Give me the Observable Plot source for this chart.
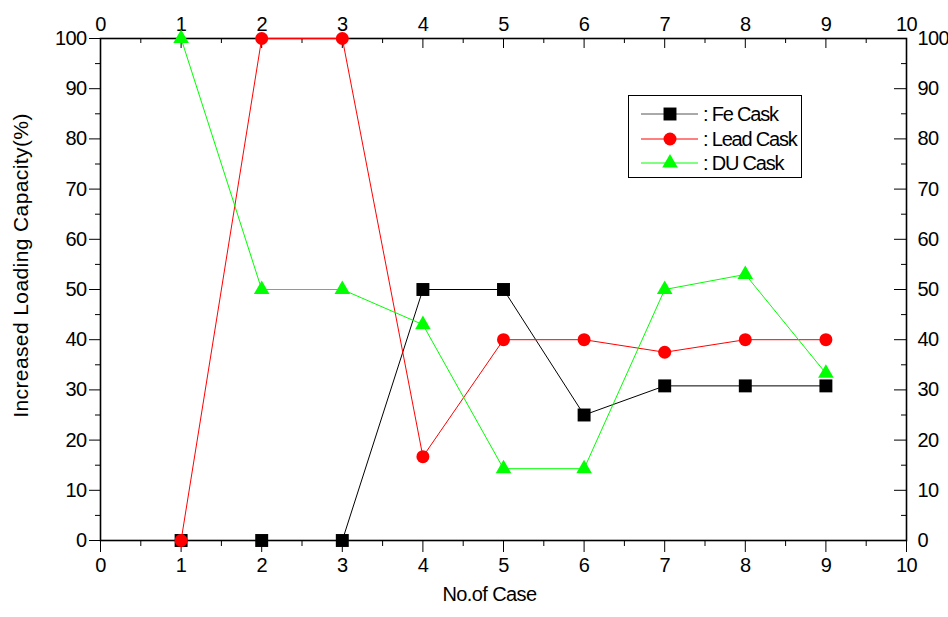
<!DOCTYPE html>
<html>
<head>
<meta charset="utf-8">
<script src="https://cdn.jsdelivr.net/npm/d3@7"></script>
<script src="https://cdn.jsdelivr.net/npm/@observablehq/plot@0.6"></script>
<style>
  body { margin: 0; background: #fff; }
  #wrap { position: relative; width: 948px; height: 617px; }
  svg text { letter-spacing: -0.6px; }
  svg text.ylab { letter-spacing: 0.4px; }
  #legend { position: absolute; left: 628px; top: 95px; width: 172px; height: 81px; border: 1px solid #000; background: #fff; }
  #legend text { letter-spacing: -1.2px; }
</style>
</head>
<body>
<div id="wrap"></div>
<script>
const cases = [1, 2, 3, 4, 5, 6, 7, 8, 9];
const feCask = [0, 0, 0, 50, 50, 25, 30.8, 30.8, 30.8];
const leadCask = [0, 100, 100, 16.7, 40, 40, 37.5, 40, 40];
const duCask = [100, 50, 50, 43, 14.3, 14.3, 50, 53, 33.3];
const xTicks = [0, 1, 2, 3, 4, 5, 6, 7, 8, 9, 10];
const xMinor = [0.5, 1.5, 2.5, 3.5, 4.5, 5.5, 6.5, 7.5, 8.5, 9.5];
const yTicks = [0, 10, 20, 30, 40, 50, 60, 70, 80, 90, 100];
const yMinor = [5, 15, 25, 35, 45, 55, 65, 75, 85, 95];
const seriesNames = [": Fe Cask", ": Lead Cask", ": DU Cask"];
const seriesColors = ["#000000", "#ff0000", "#00ff00"];
const seriesSymbols = ["square", "circle", "triangle"];
const seriesR = [7.3, 6.5, 5.8];
const xLabel = "No.of Case";
const yLabel = "Increased Loading Capacity(%)";

const W = 948, H = 617, mL = 100, mR = 42, mT = 38, mB = 77;
const pw = W - mL - mR, ph = H - mT - mB;
const font = "'Liberation Sans', Arial, sans-serif";

const series = [feCask, leadCask, duCask].map((vals, i) =>
  cases.map((c, j) => ({case: c, value: vals[j], s: i})));

const marks = [];
series.forEach((data, i) => {
  marks.push(Plot.line(data, {x: "case", y: "value", stroke: seriesColors[i], strokeWidth: 1}));
  marks.push(Plot.dot(data, {x: "case", y: "value", symbol: () => seriesSymbols[i], r: seriesR[i], fill: seriesColors[i], stroke: "none"}));
});

const chart = Plot.plot({
  width: W, height: H,
  marginLeft: mL, marginRight: mR, marginTop: mT, marginBottom: mB,
  style: {fontFamily: font, fontSize: "20px", color: "#000", background: "#fff"},
  x: {domain: [0, 10]},
  y: {domain: [0, 100]},
  symbol: {range: seriesSymbols},
  marks: [
    // bottom axis (outward)
    Plot.axisX(xTicks, {anchor: "bottom", tickSize: 12, tickPadding: 5, fontSize: 20, label: null}),
    Plot.axisX(xMinor, {anchor: "bottom", tickSize: 6, tickFormat: () => "", label: null}),
    // top axis (inward ticks)
    Plot.axisX(xTicks, {anchor: "top", tickSize: 0, tickPadding: 8, fontSize: 20, label: null}),
    Plot.ruleX(xTicks, {x: d => d, insetBottom: ph - 10, stroke: "#000"}),
    Plot.ruleX(xMinor, {x: d => d, insetBottom: ph - 5, stroke: "#000"}),
    // left axis (outward)
    Plot.axisY(yTicks, {anchor: "left", tickSize: 11, tickPadding: 3, fontSize: 20, label: null}),
    Plot.axisY(yMinor, {anchor: "left", tickSize: 5, tickFormat: () => "", label: null}),
    // right axis (inward ticks)
    Plot.axisY(yTicks, {anchor: "right", tickSize: 0, tickPadding: 11, fontSize: 20, label: null}),
    Plot.ruleY(yTicks, {y: d => d, insetLeft: pw - 12, stroke: "#000"}),
    Plot.ruleY(yMinor, {y: d => d, insetLeft: pw - 5, stroke: "#000"}),
    Plot.frame({stroke: "#000", strokeWidth: 1.6}),
    ...marks,
    Plot.text([xLabel], {frameAnchor: "bottom", dx: -14, dy: 60, fontSize: 20, fill: "#000"}),
    Plot.text([yLabel], {frameAnchor: "left", textAnchor: "middle", dx: -79, dy: -24, rotate: -90, fontSize: 21, fill: "#000", className: "ylab"})
  ]
});

const wrap = document.getElementById("wrap");
wrap.appendChild(chart);
d3.select(chart).selectAll("g[aria-label='text'] text").filter(function() { return this.textContent === yLabel; }).attr("class", "ylab");

// legend overlay
const leg = d3.select(wrap).append("div").attr("id", "legend")
  .append("svg").attr("width", 172).attr("height", 81);
const rowsY = [18, 43, 67];
seriesNames.forEach((name, i) => {
  const g = leg.append("g").attr("transform", `translate(0,${rowsY[i]})`);
  g.append("line").attr("x1", 12).attr("x2", 69).attr("y1", 0).attr("y2", 0)
    .attr("stroke", i === 0 ? "#555" : seriesColors[i]).attr("stroke-width", 1);
  const sym = {square: d3.symbolSquare, circle: d3.symbolCircle, triangle: d3.symbolTriangle}[seriesSymbols[i]];
  g.append("path").attr("d", d3.symbol(sym, Math.PI * seriesR[i] * seriesR[i])())
    .attr("transform", "translate(41,0)").attr("fill", seriesColors[i]);
  g.append("text").attr("x", 74).attr("y", 7).attr("font-family", font)
    .attr("font-size", 20).attr("fill", "#000").text(name);
});
</script>
</body>
</html>
